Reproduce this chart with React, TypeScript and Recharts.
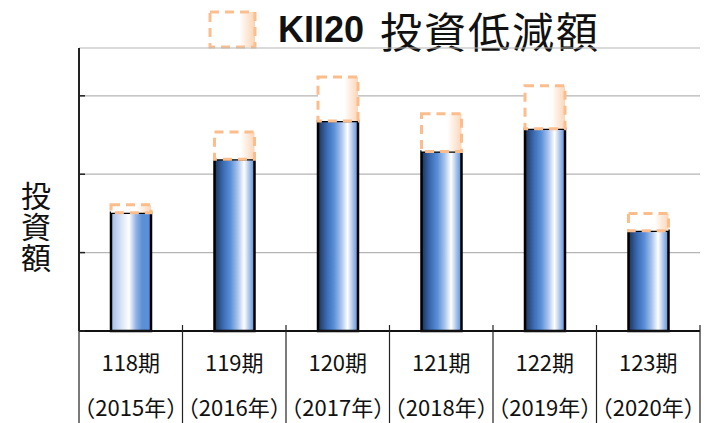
import React from 'react';
import { BarChart, Bar, XAxis, YAxis, CartesianGrid, Cell } from 'recharts';

const periods = ['118期', '119期', '120期', '121期', '122期', '123期'];
const years = ['（2015年）', '（2016年）', '（2017年）', '（2018年）', '（2019年）', '（2020年）'];
// investment amount (bar) and reduction (dashed box on top), relative units
const investment = [151, 219, 268, 229, 258, 128];
const reduction = [10, 35, 56, 48, 55, 22];
const yTicks = [0, 100, 200, 300];

const data = periods.map((p, i) => ({
  period: p,
  investment: investment[i],
  reduction: reduction[i],
}));

const cjk = '"Noto Sans CJK JP", sans-serif';

// two-line category label, plus the table-style separators
const XTick = (props: any) => {
  const { x, y, payload, index } = props;
  const half = payload && payload.offset ? payload.offset : 51.75;
  const last = index === periods.length - 1;
  const textStyle = { fontFeatureSettings: '"halt"' };
  return (
    <g>
      <line x1={x - half} x2={x - half} y1={y - 6} y2={y + 95} stroke="#222" strokeWidth={1.2} />
      {last && <line x1={x + half} x2={x + half} y1={y - 6} y2={y + 95} stroke="#222" strokeWidth={1.2} />}
      <text x={x} y={y + 40} textAnchor="middle" fontSize={22} fill="#111" fontFamily={cjk} style={textStyle}>
        {payload.value}
      </text>
      <text x={x} y={y + 85} textAnchor="middle" fontSize={22} fill="#111" fontFamily={cjk} style={textStyle}>
        {years[index]}
      </text>
    </g>
  );
};

// short inward tick marks on the value axis, no numbers
const YTick = (props: any) => {
  const { x, y } = props;
  return <line x1={x} x2={x + 6} y1={y} y2={y} stroke="#222" strokeWidth={1.5} />;
};

const App: React.FC = () => {
  return (
    <div style={{ position: 'absolute', left: 0, top: 0, width: 705, height: 423, background: '#fff' }}>
      {/* title with legend swatch */}
      <div style={{ position: 'absolute', left: 208, top: 10, height: 40, display: 'flex', alignItems: 'center' }}>
        <svg width={50} height={40}>
          <defs>
            <linearGradient id="cutIcon" x1="0" y1="0" x2="1" y2="0">
              <stop offset="0%" stopColor="#ffffff" />
              <stop offset="65%" stopColor="#ffffff" />
              <stop offset="100%" stopColor="#fbd3b2" />
            </linearGradient>
          </defs>
          <rect x={2} y={2} width={45} height={35} fill="url(#cutIcon)" stroke="#fbbf8f"
            strokeWidth={3} strokeDasharray="9 6" />
        </svg>
        <span style={{ font: 'bold 36px "Liberation Sans", sans-serif', color: '#111', marginLeft: 20 }}>KII20</span>
        <span style={{ fontFamily: cjk, fontSize: 42, lineHeight: '44px', color: '#111', marginLeft: 16, letterSpacing: 2 }}>
          投資低減額
        </span>
      </div>

      {/* vertical axis caption */}
      <div style={{ position: 'absolute', left: 19, top: 181, height: 100, fontFamily: cjk, fontSize: 30,
        lineHeight: '34px', letterSpacing: 1, writingMode: 'vertical-rl', color: '#111' }}>
        投資額
      </div>

      <BarChart width={705} height={423} data={data} margin={{ top: 48, right: 5, bottom: 0, left: 0 }}
        barCategoryGap="30%">
        <defs>
          <linearGradient id="barMain" x1="0" y1="0" x2="1" y2="0">
            <stop offset="0%" stopColor="#1c3458" />
            <stop offset="22%" stopColor="#3b6bb3" />
            <stop offset="40%" stopColor="#5a8fd8" />
            <stop offset="58%" stopColor="#a8c3ec" />
            <stop offset="74%" stopColor="#ffffff" />
            <stop offset="88%" stopColor="#a3bfea" />
            <stop offset="100%" stopColor="#5b8ed6" />
          </linearGradient>
          <linearGradient id="barFirst" x1="0" y1="0" x2="1" y2="0">
            <stop offset="0%" stopColor="#9ebce8" />
            <stop offset="25%" stopColor="#d6e3f6" />
            <stop offset="45%" stopColor="#ffffff" />
            <stop offset="62%" stopColor="#95b5e6" />
            <stop offset="78%" stopColor="#5b8fd6" />
            <stop offset="100%" stopColor="#5a8ed6" />
          </linearGradient>
          <linearGradient id="cut" x1="0" y1="0" x2="1" y2="0">
            <stop offset="0%" stopColor="#ffffff" />
            <stop offset="65%" stopColor="#ffffff" />
            <stop offset="100%" stopColor="#fbd6b8" />
          </linearGradient>
        </defs>
        <CartesianGrid horizontal vertical={false} stroke="#b5b5b5" strokeWidth={1.2} />
        <XAxis dataKey="period" height={92} interval={0} tickLine={false} tickSize={0} tickMargin={0}
          axisLine={{ stroke: '#111', strokeWidth: 2 }} tick={<XTick />} />
        <YAxis width={79} domain={[0, 361]} ticks={yTicks} tickLine={false} tickSize={0} tickMargin={0}
          axisLine={{ stroke: '#222', strokeWidth: 2 }} tick={<YTick />} />
        <Bar dataKey="investment" stackId="a" barSize={40} stroke="#000" strokeWidth={2.5} isAnimationActive={false}>
          {data.map((d, i) => (
            <Cell key={d.period} fill={i === 0 ? 'url(#barFirst)' : 'url(#barMain)'} />
          ))}
        </Bar>
        <Bar dataKey="reduction" stackId="a" barSize={40} fill="url(#cut)" stroke="#fbbd8c" strokeWidth={3}
          strokeDasharray="9 6" isAnimationActive={false} />
      </BarChart>
    </div>
  );
};

export default App;
